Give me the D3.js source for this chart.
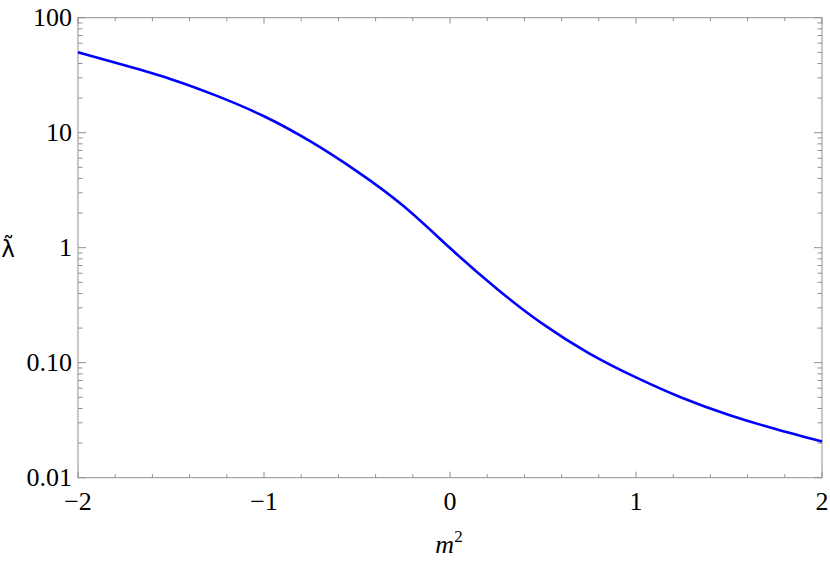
<!DOCTYPE html>
<html lang="en">

<head>
    <meta charset="UTF-8">
    <title>lambda vs m2</title>
    <script src="https://d3js.org/d3.v7.min.js"></script>
    <style>
        body,
        html {
            margin: 0px;
            background: #fff;
        }

        text {
            font-family: 'Liberation Serif', 'Times New Roman', serif;
            fill: #000;
        }
    </style>
</head>

<body>
    <div id="chart"></div>

    <script>
        // values
        const m2 = [-2, -1.75, -1.5, -1.25, -1, -0.75, -0.5, -0.25, 0, 0.25, 0.5, 0.75, 1, 1.25, 1.5, 1.75, 2]
        const lambda = [50.0, 38.5, 29.2, 20.8, 13.9, 8.39, 4.61, 2.30, 0.993, 0.4416, 0.2163, 0.1202, 0.0745, 0.0493, 0.0351, 0.0265, 0.0206]

        const xTicks = [-2, -1, 0, 1, 2]
        const xTickLabels = ["\u22122", "\u22121", "0", "1", "2"]
        const yTicks = [0.01, 0.1, 1, 10, 100]
        const yTickLabels = ["0.01", "0.10", "1", "10", "100"]

        const width = 830, height = 562
        const margin = { left: 78, right: 8, top: 17.7, bottom: 84.3 }

        const svg = d3.select("#chart")
            .append("svg")
            .attr("width", width)
            .attr("height", height)

        const x = d3.scaleLinear()
            .domain([-2, 2])
            .range([margin.left, width - margin.right])

        const y = d3.scaleLog()
            .domain([0.01, 100])
            .range([height - margin.bottom, margin.top])

        const frameColor = "#8f8f8f"
        const x0 = x.range()[0], x1 = x.range()[1]
        const y0 = y.range()[0], y1 = y.range()[1]

        // minor ticks
        const xMinor = d3.range(-2, 2.0001, 0.2).map(d => +d.toFixed(1)).filter(d => !xTicks.includes(d))
        const yMinor = []
        for (let e = -2; e < 2; e++) {
            for (let k = 2; k <= 9; k++) yMinor.push(k * Math.pow(10, e))
        }

        const ticks = svg.append("g")
            .attr("stroke", frameColor)
            .attr("stroke-width", 1)

        // bottom / top
        xTicks.forEach(d => {
            ticks.append("line").attr("x1", x(d)).attr("x2", x(d)).attr("y1", y0).attr("y2", y0 - 6)
            ticks.append("line").attr("x1", x(d)).attr("x2", x(d)).attr("y1", y1).attr("y2", y1 + 6)
        })
        xMinor.forEach(d => {
            ticks.append("line").attr("x1", x(d)).attr("x2", x(d)).attr("y1", y0).attr("y2", y0 - 3.5)
            ticks.append("line").attr("x1", x(d)).attr("x2", x(d)).attr("y1", y1).attr("y2", y1 + 3.5)
        })
        // left / right
        yTicks.forEach(d => {
            ticks.append("line").attr("x1", x0).attr("x2", x0 + 8).attr("y1", y(d)).attr("y2", y(d))
            ticks.append("line").attr("x1", x1).attr("x2", x1 - 8).attr("y1", y(d)).attr("y2", y(d))
        })
        yMinor.forEach(d => {
            ticks.append("line").attr("x1", x0).attr("x2", x0 + 4.5).attr("y1", y(d)).attr("y2", y(d))
            ticks.append("line").attr("x1", x1).attr("x2", x1 - 4.5).attr("y1", y(d)).attr("y2", y(d))
        })

        // frame
        svg.append("rect")
            .attr("x", x0)
            .attr("y", y1)
            .attr("width", x1 - x0)
            .attr("height", y0 - y1)
            .attr("fill", "none")
            .attr("stroke", frameColor)
            .attr("stroke-width", 1)

        // curve
        const line = d3.line()
            .x((d, i) => x(m2[i]))
            .y(d => y(d))
            .curve(d3.curveNatural)

        svg.append("path")
            .datum(lambda)
            .attr("d", line)
            .attr("fill", "none")
            .attr("stroke", "#0000ff")
            .attr("stroke-width", 2.6)

        // tick labels
        svg.append("g")
            .selectAll("text")
            .data(xTicks)
            .join("text")
            .attr("x", d => x(d))
            .attr("y", 510)
            .attr("text-anchor", "middle")
            .style("font-size", "26px")
            .text((d, i) => xTickLabels[i])

        svg.append("g")
            .selectAll("text")
            .data(yTicks)
            .join("text")
            .attr("x", 72)
            .attr("y", d => y(d))
            .attr("dy", "0.33em")
            .attr("text-anchor", "end")
            .style("font-size", "26px")
            .text((d, i) => yTickLabels[i])

        // axis labels
        const xl = svg.append("text")
            .attr("x", 449)
            .attr("y", 553)
            .attr("text-anchor", "middle")
            .style("font-size", "26px")
        xl.append("tspan").style("font-style", "italic").text("m")
        xl.append("tspan").attr("dy", -11).style("font-size", "17px").text("2")

        // lambda with combining tilde
        svg.append("text")
            .attr("x", 8)
            .attr("y", 257)
            .attr("text-anchor", "middle")
            .style("font-family", "'DejaVu Sans', sans-serif")
            .style("font-size", "23px")
            .text("\u03bb\u0303")
    </script>
</body>

</html>
